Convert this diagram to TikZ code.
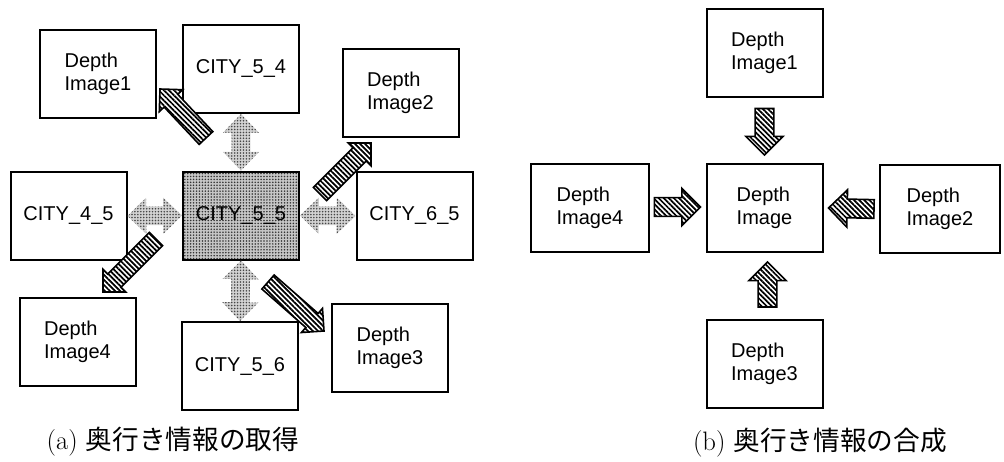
\documentclass[tikz,border=0pt]{standalone}
\usepackage{fontspec}
\newfontfamily\boxfont{Liberation Sans}
\newfontfamily\cjk{Noto Sans CJK JP}
\usetikzlibrary{calc,patterns,patterns.meta}
% single block arrow: style, from, to, shaft half width, head half width, head length
\newcommand{\fatarrow}[6]{%
  \coordinate (fahA) at ($(#3)!#6!(#2)$);
  \path[#1] ($(#2)!#4!90:(#3)$) -- ($(fahA)!#4!90:(#3)$) -- ($(fahA)!#5!90:(#3)$) -- (#3)
    -- ($(fahA)!#5!-90:(#3)$) -- ($(fahA)!#4!-90:(#3)$) -- ($(#2)!#4!-90:(#3)$) -- cycle;}
% double block arrow
\newcommand{\fatdarrow}[6]{%
  \coordinate (fahA) at ($(#3)!#6!(#2)$);
  \coordinate (fahB) at ($(#2)!#6!(#3)$);
  \path[#1] (#2) -- ($(fahB)!#5!90:(#3)$) -- ($(fahB)!#4!90:(#3)$) -- ($(fahA)!#4!90:(#3)$)
    -- ($(fahA)!#5!90:(#3)$) -- (#3) -- ($(fahA)!#5!-90:(#3)$) -- ($(fahA)!#4!-90:(#3)$)
    -- ($(fahB)!#4!-90:(#3)$) -- ($(fahB)!#5!-90:(#3)$) -- cycle;}
\begin{document}
\begin{tikzpicture}[x=0.75pt,y=-0.75pt,
  box/.style={draw, line width=1.5pt, minimum width=87pt, minimum height=66pt,
    align=left, inner sep=0pt, font=\boxfont\fontsize{15}{17.5}\selectfont},
  dotbox/.style={box, preaction={fill=gray!45}, pattern={Dots[distance=2.2pt,radius=0.65pt]}, pattern color=black!80},
  hatch/.style={draw, line width=1.2pt, line join=miter, preaction={fill=white},
    pattern={Lines[angle=-45,distance=2.7pt,line width=1.3pt]}, pattern color=black},
  grayarrow/.style={preaction={fill=gray!35}, pattern={Dots[distance=2.2pt,radius=0.65pt]}, pattern color=gray!55!black},
  caption/.style={font=\fontsize{20}{24}\selectfont, inner sep=0pt}]
\path[use as bounding box, fill=white] (0,0) rectangle (1004,461);

% ---- (a) ----
\node[box] (di1) at (98,74) {Depth\\Image1};
\node[box] (c54) at (241,69) {CITY\_5\_4};
\node[box] (di2) at (400.5,93) {Depth\\Image2};
\node[box] (c45) at (68.5,216) {CITY\_4\_5};
\node[dotbox] (c55) at (241,215.5) {CITY\_5\_5};
\node[box] (c65) at (414.5,216) {CITY\_6\_5};
\node[box] (di4) at (77.5,342) {Depth\\Image4};
\node[box] (c56) at (240,366) {CITY\_5\_6};
\node[box] (di3) at (390,347.5) {Depth\\Image3};

\fatdarrow{grayarrow}{c55.north}{c54.south}{7pt}{13.5pt}{14pt}
\fatdarrow{grayarrow}{c55.south}{c56.north}{7pt}{13.5pt}{14pt}
\fatdarrow{grayarrow}{c55.west}{c45.east}{7pt}{13.5pt}{14pt}
\fatdarrow{grayarrow}{c55.east}{c65.west}{7pt}{13.5pt}{14pt}

\coordinate (t1) at (206,138); \coordinate (h1) at (160,89);
\coordinate (t2) at (320,194); \coordinate (h2) at (371,143);
\coordinate (t4) at (156,239); \coordinate (h4) at (103,292);
\coordinate (t3) at (268,282); \coordinate (h3) at (324,331);
\fatarrow{hatch}{t1}{h1}{7pt}{12pt}{12pt}
\fatarrow{hatch}{t2}{h2}{7pt}{12pt}{12pt}
\fatarrow{hatch}{t4}{h4}{7pt}{12pt}{12pt}
\fatarrow{hatch}{t3}{h3}{7pt}{12pt}{12pt}

\node[caption] (capa) at (173,442) {(a) {\cjk 奥行き情報の取得}};

% ---- (b) ----
\node[box] (rd1) at (764.5,52.5) {Depth\\Image1};
\node[box] (rd) at (764.5,208) {Depth\\Image};
\node[box, minimum width=89pt] (rd4) at (590,208) {Depth\\Image4};
\node[box, minimum width=90pt] (rd2) at (940,209) {Depth\\Image2};
\node[box] (rd3) at (764.5,364) {Depth\\Image3};

\coordinate (bt1) at ($(rd1.south)+(0,11)$); \coordinate (bh1) at ($(rd.north)+(0,-8)$);
\coordinate (bt4) at ($(rd4.east)+(4,-1)$);  \coordinate (bh4) at ($(rd.west)+(-5,-1)$);
\coordinate (bt2) at ($(rd2.west)+(-5,0)$);  \coordinate (bh2) at ($(rd.east)+(5,0)$);
\coordinate (bt3) at ($(rd3.north)+(3,-12)$); \coordinate (bh3) at ($(rd.south)+(3,9)$);
\fatarrow{hatch}{bt1}{bh1}{7pt}{14pt}{14pt}
\fatarrow{hatch}{bt4}{bh4}{7pt}{14pt}{14pt}
\fatarrow{hatch}{bt2}{bh2}{7pt}{14pt}{14pt}
\fatarrow{hatch}{bt3}{bh3}{7pt}{14pt}{14pt}

\node[caption] (capb) at (820,443) {(b) {\cjk 奥行き情報の合成}};
\end{tikzpicture}
\end{document}
